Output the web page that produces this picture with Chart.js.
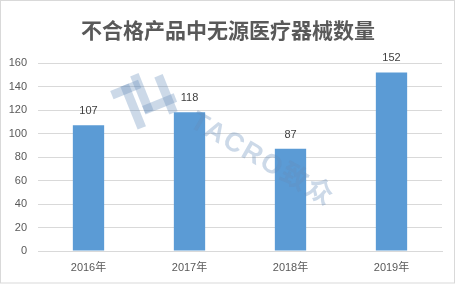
<!DOCTYPE html>
<html>
<head>
<meta charset="utf-8">
<script src="https://cdn.jsdelivr.net/npm/chart.js@4/dist/chart.umd.min.js"></script>
<style>
html,body{margin:0;padding:0;background:#fff;}
#wrap{width:456px;height:284px;position:relative;}
</style>
</head>
<body>
<div id="wrap"><canvas id="c" width="456" height="284"></canvas></div>
<script>
const categories = ["2016年", "2017年", "2018年", "2019年"];
const counts = [107, 118, 87, 152];
const yTicks = [0, 20, 40, 60, 80, 100, 120, 140, 160];
const titleText = "不合格产品中无源医疗器械数量";
const watermarkText = "TACRO致众";

const valueLabels = {
  id: 'valueLabels',
  afterDatasetsDraw(chart) {
    const ctx = chart.ctx;
    const wm = 'rgba(100,140,185,0.33)';
    // watermark text
    ctx.save();
    ctx.translate(262, 160);
    ctx.rotate(30 * Math.PI / 180);
    ctx.font = 'bold 27px "Liberation Sans", "Noto Sans CJK SC", sans-serif';
    try { ctx.letterSpacing = '2px'; } catch (e) {}
    ctx.fillStyle = wm;
    ctx.textAlign = 'center';
    ctx.textBaseline = 'middle';
    ctx.fillText(watermarkText, 0, 0);
    ctx.restore();
    // watermark logo (approximate)
    ctx.save();
    ctx.translate(147, 102);
    ctx.rotate(-22 * Math.PI / 180);
    ctx.fillStyle = wm;
    ctx.fillRect(-30, -24, 30, 9);
    ctx.fillRect(-19, -24, 9, 46);
    ctx.fillRect(-6, -30, 9, 40);
    ctx.fillRect(-6, 2, 34, 9);
    ctx.fillRect(16, -20, 9, 40);
    ctx.restore();

    const meta = chart.getDatasetMeta(0);
    ctx.save();
    ctx.font = '11px "Liberation Sans", Arial, sans-serif';
    ctx.fillStyle = '#404040';
    ctx.textAlign = 'center';
    ctx.textBaseline = 'middle';
    meta.data.forEach((bar, i) => {
      ctx.fillText(String(counts[i]), bar.x, bar.y - 14);
    });
    ctx.restore();
  }
};

const frameAndTitle = {
  id: 'frameAndTitle',
  afterDraw(chart) {
    const ctx = chart.ctx;
    ctx.save();
    ctx.font = 'bold 21px "Noto Sans CJK SC", sans-serif';
    ctx.fillStyle = '#595959';
    ctx.textAlign = 'center';
    ctx.textBaseline = 'middle';
    ctx.fillText(titleText, 228, 30);
    ctx.strokeStyle = '#d9d9d9';
    ctx.lineWidth = 1;
    ctx.strokeRect(0.5, 0.5, chart.width - 2, chart.height - 1.5);
    ctx.restore();
  }
};

new Chart(document.getElementById('c'), {
  type: 'bar',
  data: {
    labels: categories,
    datasets: [{
      data: counts,
      backgroundColor: '#5B9BD5',
      borderWidth: 0,
      barPercentage: 0.31,
      categoryPercentage: 1.0
    }]
  },
  options: {
    responsive: false,
    animation: false,
    devicePixelRatio: 1,
    layout: { padding: { left: 0, right: 14, top: 63, bottom: 10 } },
    plugins: {
      legend: { display: false },
      tooltip: { enabled: false },
      title: { display: false }
    },
    scales: {
      x: {
        afterFit(scale) { scale.height = 23; },
        grid: { display: false, drawTicks: false },
        border: { display: true, color: '#d9d9d9', width: 1 },
        ticks: {
          color: '#595959',
          padding: 10,
          font: { family: '"Liberation Sans", "Noto Sans CJK SC", sans-serif', size: 11 }
        }
      },
      y: {
        min: 0,
        max: 160,
        afterBuildTicks(scale) { scale.ticks = yTicks.map(v => ({ value: v })); },
        afterFit(scale) { scale.width = 38; },
        grid: { color: '#d9d9d9', drawTicks: false, lineWidth: 1 },
        border: { display: false },
        ticks: {
          color: '#595959',
          padding: 11,
          font: { family: '"Liberation Sans", sans-serif', size: 11 }
        }
      }
    }
  },
  plugins: [valueLabels, frameAndTitle]
});
</script>
</body>
</html>
